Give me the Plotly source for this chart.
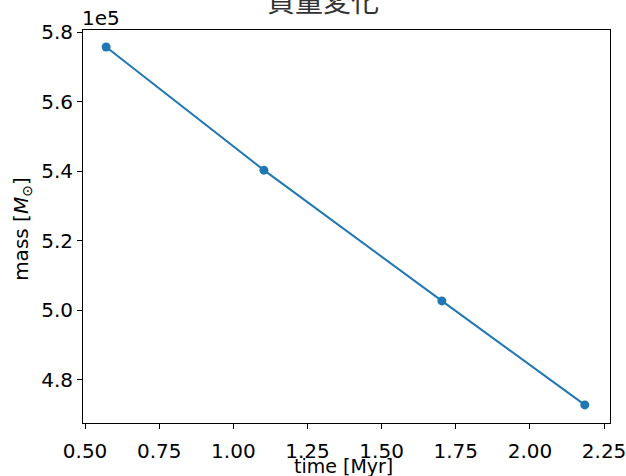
import plotly.graph_objects as go

time_myr = [0.571, 1.103, 1.703, 2.185]
mass = [5.757e5, 5.403e5, 5.027e5, 4.728e5]

x_ticks = [0.50, 0.75, 1.00, 1.25, 1.50, 1.75, 2.00, 2.25]
x_ticktext = ["0.50", "0.75", "1.00", "1.25", "1.50", "1.75", "2.00", "2.25"]
y_ticks = [4.8e5, 5.0e5, 5.2e5, 5.4e5, 5.6e5, 5.8e5]
y_ticktext = ["4.8", "5.0", "5.2", "5.4", "5.6", "5.8"]

FONT = "DejaVu Sans"
FS = 20

fig = go.Figure()
fig.add_trace(go.Scatter(
    x=time_myr, y=mass, mode="lines+markers",
    line=dict(color="#1f77b4", width=2),
    marker=dict(color="#1f77b4", size=9),
    showlegend=False,
))

axis_common = dict(
    showgrid=False, zeroline=False, showline=True, mirror=True,
    linecolor="black", linewidth=1,
    ticks="outside", ticklen=5, tickwidth=1, tickcolor="black",
    tickfont=dict(family=FONT, size=FS, color="black"),
    ticklabeloverflow="allow", automargin=False,
)

fig.update_layout(
    width=626, height=476,
    margin=dict(l=83, r=16, t=30, b=53, autoexpand=False),
    paper_bgcolor="white", plot_bgcolor="white",
    font=dict(family=FONT, color="black"),
    xaxis=dict(
        range=[0.493, 2.27],
        tickvals=x_ticks, ticktext=x_ticktext,
        ticklabelstandoff=5,
        **axis_common,
    ),
    yaxis=dict(
        range=[4.676e5, 5.806e5],
        tickvals=y_ticks, ticktext=y_ticktext,
        **axis_common,
    ),
)

fig.add_annotation(
    text="time [Myr]", xref="paper", yref="paper", x=0.495, y=0.0,
    xanchor="center", yanchor="middle", showarrow=False,
    font=dict(family=FONT, size=19, color="black"), yshift=-43,
)

fig.add_annotation(
    text="mass [<i>M</i><sub>⊙</sub>]", xref="paper", yref="paper", x=0.0, y=0.494,
    xanchor="center", yanchor="middle", showarrow=False, textangle=-90,
    font=dict(family=FONT, size=FS, color="black"), xshift=-61,
)

fig.add_annotation(
    text="質量変化", xref="paper", yref="paper", x=0.455, y=1.0,
    xanchor="center", yanchor="middle", showarrow=False,
    font=dict(family="Noto Sans CJK JP", size=28, color="#333333"), yshift=30,
)

fig.add_annotation(
    text="1e5", xref="paper", yref="paper", x=0.0, y=1.0,
    xanchor="left", yanchor="bottom", showarrow=False,
    font=dict(family=FONT, size=FS, color="black"), xshift=-3, yshift=-2,
)

fig.write_html("out.html")
